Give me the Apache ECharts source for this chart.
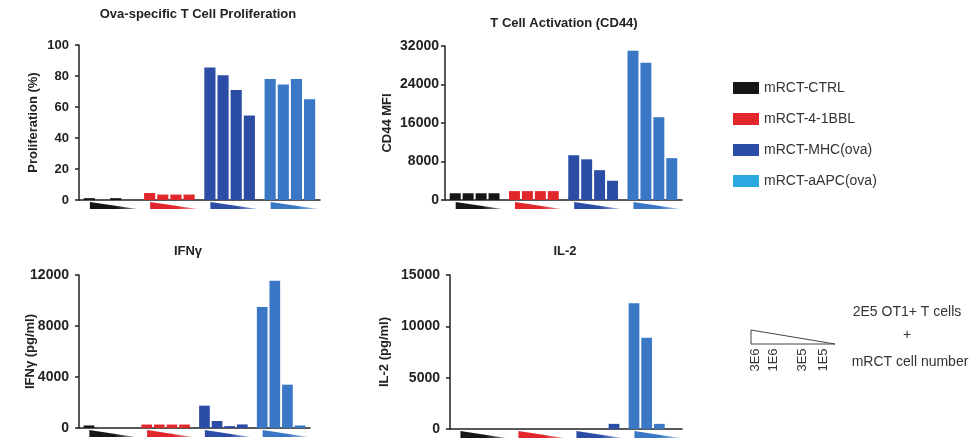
<!DOCTYPE html>
<html>
<head>
<meta charset="utf-8">
<script src="https://cdn.jsdelivr.net/npm/echarts@6/dist/echarts.min.js"></script>
<style>
html, body { margin: 0; padding: 0; background: #fff; }
#main { width: 969px; height: 442px; }
</style>
</head>
<body>
<div id="main"></div>
<script>
// groups of mRCT cells, each given at 4 doses
const groups = ['mRCT-CTRL', 'mRCT-4-1BBL', 'mRCT-MHC(ova)', 'mRCT-aAPC(ova)'];
const doses = ['3E6', '1E6', '3E5', '1E5'];

const barColors = ['#161616', '#e1262c', '#2c4da6', '#3a77c5'];
const legendColors = ['#161616', '#e1262c', '#2c4da6', '#2aa8e0'];
const fadeColors = ['#9a9a9a', '#f0a0a2', '#a9b8e0', '#b3cdee'];

// values read per group, doses 3E6 -> 1E5
const prolifValues = [[1.2, 0, 1.2, 0], [4.5, 3.5, 3.5, 3.5], [85.5, 80.5, 71, 54.5], [78, 74.5, 78, 65]];
const cd44Values = [[1400, 1400, 1400, 1400], [1850, 1850, 1850, 1850], [9300, 8450, 6200, 4000], [31000, 28500, 17200, 8700]];
const ifngValues = [[200, 0, 0, 0], [270, 270, 270, 270], [1750, 550, 150, 280], [9500, 11550, 3400, 200]];
const il2Values = [[0, 0, 0, 0], [0, 0, 0, 0], [0, 0, 0, 500], [12250, 8880, 500, 0]];

const prolifTicks = [0, 20, 40, 60, 80, 100];
const cd44Ticks = [0, 8000, 16000, 24000, 32000];
const ifngTicks = [0, 4000, 8000, 12000];
const il2Ticks = [0, 5000, 10000, 15000];

const panels = [
    {title: 'Ova-specific T Cell Proliferation', axisName: 'Proliferation (%)', values: prolifValues, ticks: prolifTicks,
     grid: {left: 79, top: 45, width: 241, height: 155}, titleX: 198, titleY: 8, nameGap: 39, labelSize: 13, labelMargin: 10},
    {title: 'T Cell Activation (CD44)', axisName: 'CD44 MFI', values: cd44Values, ticks: cd44Ticks,
     grid: {left: 445, top: 46, width: 237, height: 154}, titleX: 564, titleY: 17, nameGap: 51, labelSize: 14, labelMargin: 6},
    {title: 'IFNγ', axisName: 'IFNγ (pg/ml)', values: ifngValues, ticks: ifngTicks,
     grid: {left: 79, top: 275, width: 231, height: 153}, titleX: 188, titleY: 245, nameGap: 42, labelSize: 14, labelMargin: 10},
    {title: 'IL-2', axisName: 'IL-2 (pg/ml)', values: il2Values, ticks: il2Ticks,
     grid: {left: 450, top: 275, width: 232, height: 154}, titleX: 565, titleY: 245, nameGap: 59, labelSize: 14, labelMargin: 10}
];

const font = '"Liberation Sans", Arial, sans-serif';
const axisColor = '#222';

function wedge(params, api) {
    let c = api.coord([api.value(0), 0]);
    let bw = api.size([1, 0])[0];
    let x0 = c[0] - bw * 0.32;
    let x1 = c[0] + bw * 0.47;
    let y0 = c[1] + 2;
    let h = 7;
    let gi = api.value(0);
    return {
        type: 'polygon',
        shape: {points: [[x0, y0], [x1, y0 + h], [x0, y0 + h]]},
        style: {
            fill: new echarts.graphic.LinearGradient(0, 0, 1, 0, [
                {offset: 0, color: barColors[gi]},
                {offset: 0.55, color: barColors[gi]},
                {offset: 1, color: fadeColors[gi]}
            ])
        }
    };
}

let titles = [], grids = [], xAxes = [], yAxes = [], series = [];

panels.forEach((p, pi) => {
    titles.push({
        text: p.title, left: p.titleX, top: p.titleY, textAlign: 'center', padding: 0,
        textStyle: {fontFamily: font, fontSize: 13, fontWeight: 'bold', color: '#222'}
    });
    grids.push(p.grid);
    xAxes.push({
        type: 'category', gridIndex: pi, data: groups,
        axisLine: {lineStyle: {color: axisColor, width: 1.5}},
        axisTick: {show: false}, axisLabel: {show: false}, splitLine: {show: false}
    });
    let t = p.ticks;
    yAxes.push({
        type: 'value', gridIndex: pi, min: t[0], max: t[t.length - 1], interval: t[1] - t[0],
        name: p.axisName, nameLocation: 'middle', nameGap: p.nameGap, nameRotate: 90,
        nameMoveOverlap: false,
        nameTextStyle: {fontFamily: font, fontSize: 13, fontWeight: 'bold', color: '#222'},
        axisLine: {show: true, lineStyle: {color: axisColor, width: 1.5}},
        axisTick: {show: true, length: 4, lineStyle: {color: axisColor, width: 1.5}},
        axisLabel: {fontFamily: font, fontSize: p.labelSize, fontWeight: 'bold', color: '#222', margin: p.labelMargin,
                    formatter: v => String(v)},
        splitLine: {show: false}
    });
    doses.forEach((d, di) => {
        series.push({
            type: 'bar', name: d, xAxisIndex: pi, yAxisIndex: pi,
            barCategoryGap: '16%', barGap: '18%',
            data: groups.map((g, gi) => ({value: p.values[gi][di], itemStyle: {color: barColors[gi]}})),
            silent: true
        });
    });
    groups.forEach((g, gi) => {
        series.push({
            type: 'custom', name: g, xAxisIndex: pi, yAxisIndex: pi,
            clip: false, silent: true,
            itemStyle: {color: legendColors[gi]},
            renderItem: wedge,
            data: [[gi, 0]]
        });
    });
});

let dom = document.getElementById('main');
let myChart = echarts.init(dom, null, {renderer: 'canvas'});

let textStyle = {fontFamily: font, fontSize: 14, fill: '#333'};

let option = {
    animation: false,
    backgroundColor: '#fff',
    title: titles,
    grid: grids,
    xAxis: xAxes,
    yAxis: yAxes,
    legend: {
        orient: 'vertical', left: 728, top: 76,
        itemWidth: 26, itemHeight: 12, itemGap: 17, icon: 'rect',
        selectedMode: false,
        textStyle: {fontFamily: font, fontSize: 14, color: '#333'},
        data: groups.map((g, i) => ({name: g, itemStyle: {color: legendColors[i]}}))
    },
    graphic: [
        {type: 'polygon', shape: {points: [[751, 330], [835, 344], [751, 344]]},
         style: {fill: '#fff', stroke: '#444', lineWidth: 1}},
        ...doses.map((d, i) => ({
            type: 'text', x: [755, 773, 802, 823][i], y: 360, rotation: Math.PI / 2,
            style: Object.assign({text: d, align: 'center', verticalAlign: 'middle'}, textStyle, {fontSize: 13})
        })),
        {type: 'text', x: 907, y: 312, style: Object.assign({text: '2E5 OT1+ T cells', align: 'center', verticalAlign: 'middle'}, textStyle)},
        {type: 'text', x: 907, y: 335, style: Object.assign({text: '+', align: 'center', verticalAlign: 'middle'}, textStyle)},
        {type: 'text', x: 910, y: 362, style: Object.assign({text: 'mRCT cell number', align: 'center', verticalAlign: 'middle'}, textStyle)}
    ],
    series: series
};

if (option && typeof option === 'object') {
    myChart.setOption(option);
}
window.addEventListener('resize', myChart.resize);
</script>
</body>
</html>
